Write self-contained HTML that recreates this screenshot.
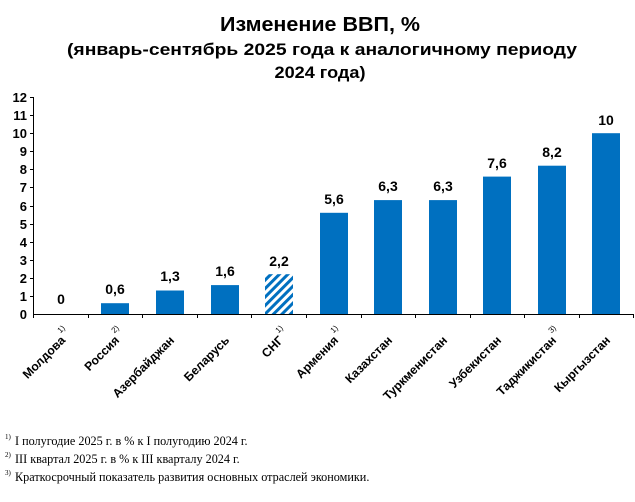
<!DOCTYPE html>
<html><head><meta charset="utf-8"><style>
html,body{margin:0;padding:0;background:#fff;}
svg{display:block;}
</style></head><body>
<svg width="635" height="502" xmlns="http://www.w3.org/2000/svg" font-family="Liberation Sans, sans-serif">
<defs>
<pattern id="h" patternUnits="userSpaceOnUse" width="6" height="6" patternTransform="rotate(45)">
<rect x="0" y="0" width="3" height="6" fill="#0070C0"/>
</pattern>
</defs>
<g font-weight="bold" text-anchor="middle" fill="#000">
<text x="320" y="31" font-size="20" textLength="200" lengthAdjust="spacingAndGlyphs">Изменение ВВП, %</text>
<text x="322" y="55" font-size="17" textLength="510" lengthAdjust="spacingAndGlyphs">(январь-сентябрь 2025 года к аналогичному периоду</text>
<text x="320" y="78" font-size="17" textLength="91" lengthAdjust="spacingAndGlyphs">2024 года)</text>
</g>
<g stroke="#000" stroke-width="1" fill="none">
<line x1="33.5" y1="97" x2="33.5" y2="314.5"/>
<line x1="33" y1="314.5" x2="634" y2="314.5"/>
<line x1="30" y1="97.5" x2="33" y2="97.5"/><line x1="30" y1="115.5" x2="33" y2="115.5"/><line x1="30" y1="133.5" x2="33" y2="133.5"/><line x1="30" y1="151.5" x2="33" y2="151.5"/><line x1="30" y1="169.5" x2="33" y2="169.5"/><line x1="30" y1="187.5" x2="33" y2="187.5"/><line x1="30" y1="206.5" x2="33" y2="206.5"/><line x1="30" y1="224.5" x2="33" y2="224.5"/><line x1="30" y1="242.5" x2="33" y2="242.5"/><line x1="30" y1="260.5" x2="33" y2="260.5"/><line x1="30" y1="278.5" x2="33" y2="278.5"/><line x1="30" y1="296.5" x2="33" y2="296.5"/>
<line x1="33.5" y1="314" x2="33.5" y2="318"/><line x1="88.5" y1="314" x2="88.5" y2="318"/><line x1="142.5" y1="314" x2="142.5" y2="318"/><line x1="197.5" y1="314" x2="197.5" y2="318"/><line x1="251.5" y1="314" x2="251.5" y2="318"/><line x1="306.5" y1="314" x2="306.5" y2="318"/><line x1="361.5" y1="314" x2="361.5" y2="318"/><line x1="415.5" y1="314" x2="415.5" y2="318"/><line x1="470.5" y1="314" x2="470.5" y2="318"/><line x1="524.5" y1="314" x2="524.5" y2="318"/><line x1="579.5" y1="314" x2="579.5" y2="318"/><line x1="633.5" y1="314" x2="633.5" y2="318"/>
</g>
<g font-size="13" font-weight="bold" text-anchor="end">
<text x="27" y="102">12</text><text x="27" y="120">11</text><text x="27" y="138">10</text><text x="27" y="156">9</text><text x="27" y="174">8</text><text x="27" y="192">7</text><text x="27" y="211">6</text><text x="27" y="229">5</text><text x="27" y="247">4</text><text x="27" y="265">3</text><text x="27" y="283">2</text><text x="27" y="301">1</text><text x="27" y="319">0</text>
</g>
<g fill="#0070C0">
<rect x="101" y="303.2" width="28" height="10.8"/>
<rect x="156" y="290.5" width="28" height="23.5"/>
<rect x="211" y="285.1" width="28" height="28.9"/>
<rect x="265" y="274.2" width="28" height="39.8" fill="url(#h)"/>
<rect x="320" y="212.8" width="28" height="101.2"/>
<rect x="374" y="200.1" width="28" height="113.9"/>
<rect x="429" y="200.1" width="28" height="113.9"/>
<rect x="483" y="176.6" width="28" height="137.4"/>
<rect x="538" y="165.7" width="28" height="148.3"/>
<rect x="592" y="133.2" width="28" height="180.8"/>
</g>
<g font-size="14" font-weight="bold" text-anchor="middle">
<text x="61" y="304">0</text>
<text x="115" y="294">0,6</text>
<text x="170" y="281">1,3</text>
<text x="225" y="276">1,6</text>
<text x="279" y="266">2,2</text>
<text x="334" y="204">5,6</text>
<text x="388" y="191">6,3</text>
<text x="443" y="191">6,3</text>
<text x="497" y="168">7,6</text>
<text x="552" y="157">8,2</text>
<text x="606" y="125">10</text>
</g>
<g font-size="12.2" font-weight="bold" text-anchor="end">
<text transform="translate(66,341) rotate(-45)">Молдова</text>
<text transform="translate(120,341) rotate(-45)">Россия</text>
<text transform="translate(175,341) rotate(-45)">Азербайджан</text>
<text transform="translate(230,341) rotate(-45)">Беларусь</text>
<text transform="translate(284,341) rotate(-45)">СНГ</text>
<text transform="translate(339,341) rotate(-45)">Армения</text>
<text transform="translate(393,341) rotate(-45)">Казахстан</text>
<text transform="translate(448,341) rotate(-45)">Туркменистан</text>
<text transform="translate(502,341) rotate(-45)">Узбекистан</text>
<text transform="translate(557,341) rotate(-45)">Таджикистан</text>
<text transform="translate(611,341) rotate(-45)">Кыргызстан</text>
</g>
<g font-size="8" text-anchor="middle">
<text transform="translate(63,331) rotate(-45)">1)</text>
<text transform="translate(117,331) rotate(-45)">2)</text>
<text transform="translate(281,331) rotate(-45)">1)</text>
<text transform="translate(336,331) rotate(-45)">1)</text>
<text transform="translate(554,331) rotate(-45)">3)</text>
</g>
<g font-family="Liberation Serif, serif" font-size="12.2">
<text x="5" y="439" font-size="7">1)</text><text x="15" y="445">I полугодие 2025 г. в % к I полугодию 2024 г.</text>
<text x="5" y="457" font-size="7">2)</text><text x="15" y="463">III квартал 2025 г. в % к III кварталу 2024 г.</text>
<text x="5" y="475" font-size="7">3)</text><text x="15" y="481">Краткосрочный показатель развития основных отраслей экономики.</text>
</g>
</svg>
</body></html>
